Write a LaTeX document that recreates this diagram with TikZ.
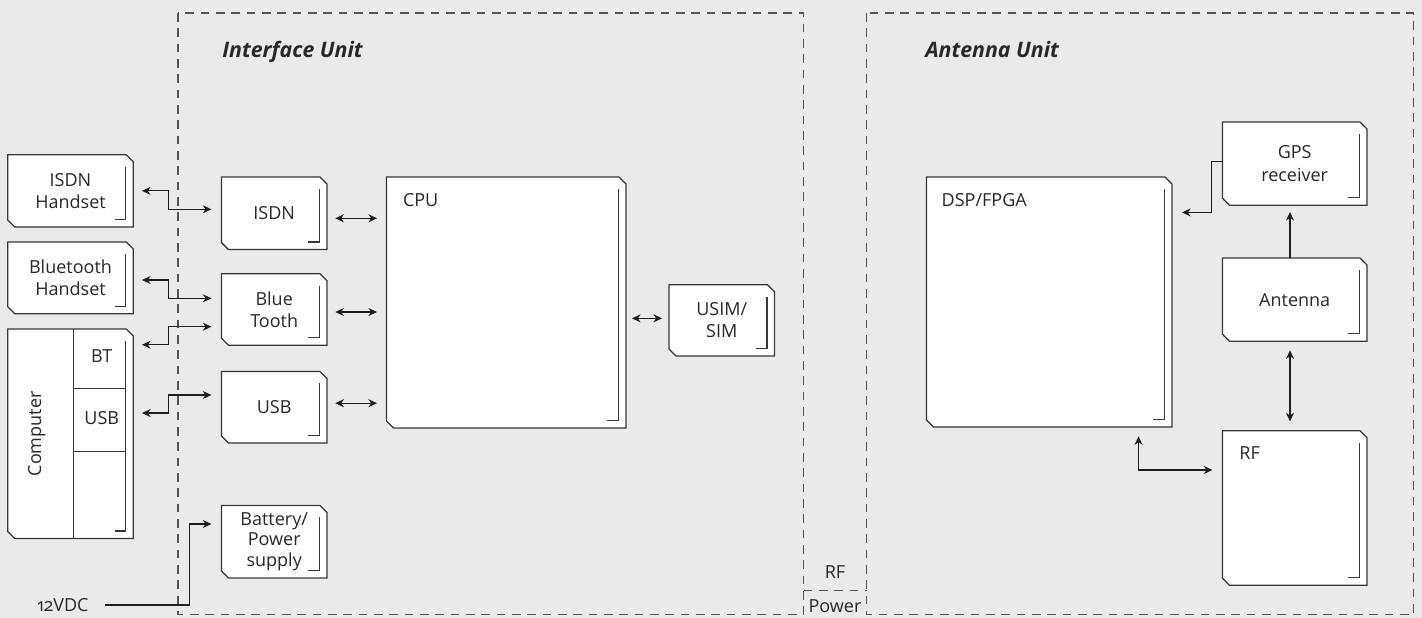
\documentclass[tikz,border=0pt]{standalone}
\usepackage{fontspec}
\setmainfont{Open Sans}
\usetikzlibrary{calc,arrows.meta}
\pgfdeclarelayer{bg}
\pgfdeclarelayer{boxes}
\pgfsetlayers{bg,boxes,main}
\definecolor{bgc}{RGB}{234,234,234}
\definecolor{edge}{RGB}{55,55,55}
\definecolor{dashc}{RGB}{85,85,85}
\definecolor{txt}{RGB}{40,40,40}
\definecolor{conn}{RGB}{30,30,30}
\newcommand\deco[1]{%
  \begin{pgfonlayer}{boxes}
  \draw[boxline,fill=white] (#1.north west) -- ($(#1.north east)+(-7,0)$) -- ($(#1.north east)+(0,7)$)
     -- (#1.south east) -- ($(#1.south west)+(7,0)$) -- ($(#1.south west)+(0,-7)$) -- cycle;
  \draw[innerline] ($(#1.north east)+(-7.5,12)$) -- ($(#1.south east)+(-7.5,-7.5)$) -- ++(-11,0);
  \end{pgfonlayer}}
\begin{document}
\begin{tikzpicture}[x=0.75pt,y=-0.75pt,
  boxline/.style={draw=edge,line width=0.95pt},
  innerline/.style={draw=edge,line width=0.95pt},
  blk/.style={inner sep=0pt,align=center,text=txt,font=\fontsize{13.5}{16.7}\selectfont},
  sz/.style 2 args={minimum width=#1*0.75pt,minimum height=#2*0.75pt},
  unitbox/.style={draw=dashc,line width=0.9pt,dash pattern=on 6.5pt off 5pt},
  ttl/.style={inner sep=0pt,text=txt,font=\fontsize{16}{19}\selectfont\bfseries\itshape},
  arr/.style={draw=conn,line width=0.85pt,-{Stealth[length=6.5pt,width=6pt]}},
  dbl/.style={draw=conn,line width=0.85pt,{Stealth[length=6.5pt,width=6pt]}-{Stealth[length=6.5pt,width=6pt]}}]
\useasboundingbox (0,0) rectangle (1422,618);
\begin{pgfonlayer}{bg}
\fill[bgc] (0,0) rectangle (1422,618);
\draw[unitbox] (178,13) rectangle (803.5,614.5);
\draw[unitbox] (866.7,13) rectangle (1413.3,614.5);
\draw[unitbox] (803.5,590.7) -- (866.7,590.7);
\end{pgfonlayer}
\node[ttl,anchor=base west] (ifu) at (222,57.5) {Interface Unit};
\node[ttl,anchor=base west] (anu) at (925,57.5) {Antenna Unit};
\node[blk] (rfc) at (835,572) {RF};
\node[blk] (pwr) at (835,606.5) {Power};
% external devices
\node[blk,sz={125}{71.7}] (isdnh) at (70.5,190.85) {ISDN\\Handset}; \deco{isdnh}
\node[blk,sz={125}{71.2}] (bth) at (70.5,277.9) {Bluetooth\\Handset}; \deco{bth}
\node[blk,sz={125}{209}] (comp) at (70.5,433.8) {}; \deco{comp}
\draw[boxline] ($(comp.north west)+(66,0)$) -- ($(comp.south west)+(66,0)$);
\draw[boxline] ($(comp.north west)+(66,59.7)$) -- ++(51.5,0);
\draw[boxline] ($(comp.north west)+(66,122.4)$) -- ++(51.5,0);
\node[blk,rotate=90] (compL) at ($(comp.west)+(29,0)$) {Computer};
\node[blk] (compbt) at ($(comp.north west)+(94,27)$) {BT};
\node[blk] (compusb) at ($(comp.north west)+(94,89)$) {USB};
\node[blk,font=\fontsize{13.5}{16.7}\selectfont\addfontfeatures{Numbers=OldStyle}] (vdc) at (63,605) {12VDC};
% interface unit
\node[blk,sz={105}{72}] (isdn) at (274.2,213.3) {ISDN}; \deco{isdn}
\node[blk,sz={105}{71}] (bt) at (274.2,309.5) {Blue\\Tooth}; \deco{bt}
\node[blk,sz={105}{71}] (usb) at (274.2,407.2) {USB}; \deco{usb}
\node[blk,sz={105}{72},font=\fontsize{13.5}{15.6}\selectfont] (bat) at (274.2,541.7) {Battery/\\Power\\supply}; \deco{bat}
\node[blk,sz={239}{250.4}] (cpu) at (506.2,302.5) {}; \deco{cpu}
\node[blk,anchor=west] (cpuL) at ($(cpu.north west)+(16.3,23.4)$) {CPU};
\node[blk,sz={105}{70.7}] (usim) at (721.8,320.35) {USIM/\\SIM}; \deco{usim}
% antenna unit
\node[blk,sz={245}{249.4}] (dsp) at (1049.2,302) {}; \deco{dsp}
\node[blk,anchor=west] (dspL) at ($(dsp.north west)+(15,23.4)$) {DSP/FPGA};
\node[blk,sz={144}{82.7}] (gps) at (1294.7,163.65) {GPS\\receiver}; \deco{gps}
\node[blk,sz={144}{82.7}] (ant) at (1294.7,299.65) {Antenna}; \deco{ant}
\node[blk,sz={144}{154}] (rf) at (1294.7,508) {}; \deco{rf}
\node[blk,anchor=west] (rfL) at ($(rf.north west)+(16.7,22.3)$) {RF};
% connectors
\draw[dbl] ($(isdnh.east)+(8.7,0)$) -- ++(26.6,0) |- ($(isdn.west)+(-10,-4)$);
\draw[dbl] ($(bth.east)+(8.7,2.1)$) -- ++(26.6,0) |- ($(bt.west)+(-10,-11.2)$);
\draw[dbl] ($(comp.north east)+(8.7,15.7)$) -- ++(26.6,0) |- ($(bt.west)+(-10,17.2)$);
\draw[dbl] ($(comp.north east)+(8.7,84)$) -- ++(26.6,0) |- ($(usb.west)+(-10,-12.2)$);
\draw[arr] ($(vdc.east)+(16,0)$) -| ($(bat.west)+(-31.7,-17.7)$) -- ($(bat.west)+(-10,-17.7)$);
\draw[dbl] ($(isdn.east)+(8.3,5)$) -- ($(cpu.west |- isdn.east)+(-9.4,5)$);
\draw[dbl] ($(bt.east)+(8.3,2.5)$) -- ($(cpu.west |- bt.east)+(-9.4,2.5)$);
\draw[dbl] ($(usb.east)+(8.3,-4)$) -- ($(cpu.west |- usb.east)+(-9.4,-4)$);
\draw[dbl] ($(cpu.east |- usim.west)+(6,-2)$) -- ($(usim.west)+(-7,-2)$);
\draw[arr] ($(gps.west)+(0,-2)$) -- ++(-11,0) |- ($(dsp.north east)+(10,35.4)$);
\draw[arr] ($(ant.north)+(-4.7,0)$) -- ($(gps.south)+(-4.7,6.7)$);
\draw[dbl] ($(ant.south)+(-4.7,9)$) -- ($(rf.north)+(-4.7,-9.3)$);
\draw[dbl] ($(dsp.south east)+(-33.4,9.3)$) |- ($(rf.west)+(-10,-38)$);
\end{tikzpicture}
\end{document}
